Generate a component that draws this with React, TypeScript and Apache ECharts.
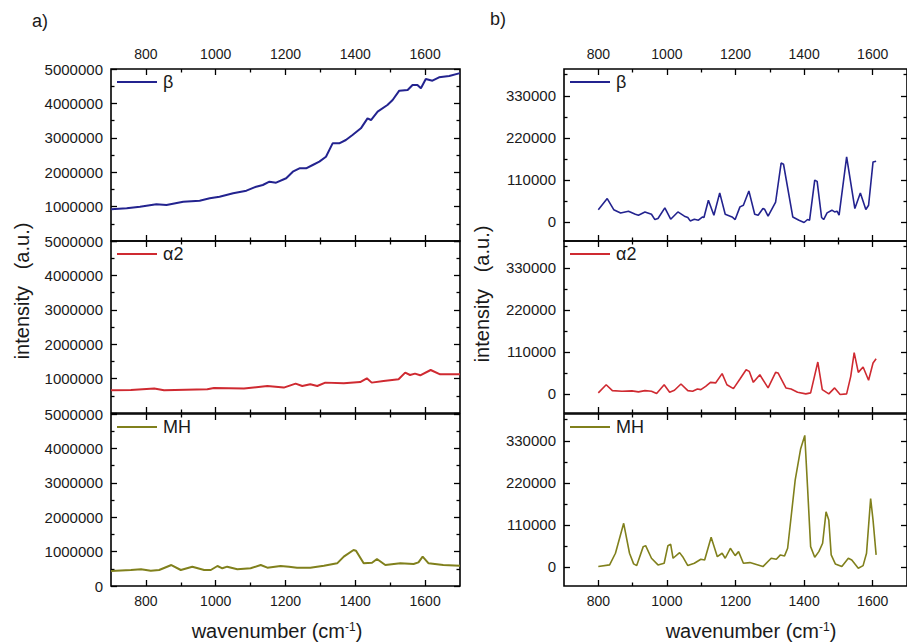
import React, { useEffect, useRef } from 'react';
import * as echarts from 'echarts';

// ---------- data ----------
const xMajorTicks = [800, 1000, 1200, 1400, 1600];
const xMinorTicks = [900, 1100, 1300, 1500];
const bYMajorTicks = [0, 110000, 220000, 330000];
const bYMinorTicks = [55000, 165000, 275000, 385000];

const seriesNames = ['β', 'α2', 'MH'];
const seriesColors = ['#23238f', '#cf2a31', '#80801c'];

// panel a) raw spectra
const aBetaX = [700, 745, 783, 830, 859, 907, 954, 983, 1011, 1050, 1088, 1116, 1135, 1154, 1173, 1202, 1221, 1240, 1259, 1278, 1297, 1316, 1335, 1354, 1373, 1392, 1416, 1435, 1445, 1464, 1492, 1507, 1526, 1550, 1564, 1578, 1588, 1602, 1621, 1640, 1669, 1700];
const aBetaY = [921000, 950000, 998000, 1067000, 1046000, 1143000, 1172000, 1241000, 1289000, 1386000, 1463000, 1579000, 1628000, 1725000, 1695000, 1823000, 2015000, 2112000, 2112000, 2209000, 2306000, 2451000, 2839000, 2839000, 2936000, 3081000, 3275000, 3566000, 3517000, 3759000, 3953000, 4099000, 4370000, 4390000, 4535000, 4535000, 4438000, 4709000, 4660000, 4758000, 4797000, 4880000];

const aAlphaX = [700, 757, 824, 852, 976, 995, 1081, 1148, 1195, 1229, 1248, 1271, 1291, 1314, 1367, 1414, 1433, 1447, 1481, 1524, 1543, 1557, 1571, 1586, 1616, 1643, 1700];
const aAlphaY = [660000, 669000, 709000, 660000, 689000, 727000, 709000, 785000, 738000, 855000, 785000, 834000, 785000, 883000, 863000, 901000, 1009000, 883000, 930000, 980000, 1174000, 1105000, 1145000, 1096000, 1250000, 1125000, 1125000];

const aMhX = [700, 757, 786, 814, 838, 873, 900, 933, 967, 986, 1005, 1019, 1033, 1062, 1100, 1129, 1148, 1186, 1210, 1233, 1271, 1310, 1348, 1367, 1395, 1402, 1424, 1448, 1462, 1486, 1529, 1567, 1581, 1593, 1610, 1652, 1700];
const aMhY = [436000, 465000, 485000, 445000, 465000, 610000, 465000, 562000, 465000, 465000, 581000, 514000, 562000, 485000, 514000, 610000, 533000, 581000, 562000, 533000, 533000, 591000, 659000, 853000, 1047000, 1027000, 659000, 678000, 785000, 610000, 659000, 640000, 688000, 853000, 659000, 610000, 591000];

// panel b) baseline-corrected spectra
const bBetaX = [800, 826, 845, 865, 888, 908, 917, 936, 955, 965, 974, 994, 1011, 1032, 1051, 1061, 1068, 1080, 1092, 1104, 1108, 1121, 1137, 1154, 1170, 1190, 1199, 1213, 1223, 1239, 1256, 1266, 1280, 1285, 1295, 1317, 1333, 1340, 1367, 1385, 1400, 1410, 1416, 1431, 1438, 1451, 1457, 1467, 1481, 1489, 1496, 1502, 1524, 1548, 1564, 1580, 1588, 1601, 1610];
const bBetaY = [32000, 61000, 32000, 23500, 28000, 20000, 17500, 26000, 20000, 6000, 9000, 36600, 7000, 26000, 15000, 11500, 2600, 7000, 4400, 13000, 11500, 56700, 17500, 75800, 20000, 13000, 6200, 39200, 43600, 81000, 20000, 17500, 35000, 33000, 15000, 52000, 154000, 150800, 13000, 4400, -1600, 6200, 4400, 109000, 106000, 11500, 6200, 23500, 30600, 26000, 28000, 17500, 170000, 35000, 75800, 32400, 43600, 156800, 158600];

const bAlphaX = [800, 823, 841, 869, 898, 917, 936, 955, 970, 992, 1008, 1022, 1041, 1061, 1075, 1089, 1099, 1113, 1127, 1142, 1161, 1175, 1194, 1213, 1231, 1240, 1252, 1271, 1295, 1317, 1324, 1347, 1362, 1381, 1405, 1419, 1440, 1453, 1472, 1489, 1505, 1524, 1536, 1546, 1558, 1572, 1588, 1601, 1610];
const bAlphaY = [2600, 24000, 8600, 7000, 7800, 5200, 8600, 7000, 800, 24000, 4200, 9400, 26000, 8600, 7000, 13000, 11200, 19800, 30200, 28700, 53000, 24000, 13800, 39000, 63300, 59000, 30200, 50000, 15600, 56300, 54700, 15600, 13000, 4200, 0, 2600, 83400, 11200, 0, 15600, -1800, 0, 45900, 108000, 56300, 70400, 35500, 80800, 92000];

const bMhX = [800, 833, 850, 874, 891, 903, 912, 931, 938, 955, 974, 992, 1003, 1011, 1018, 1037, 1046, 1061, 1080, 1099, 1110, 1129, 1147, 1161, 1170, 1185, 1199, 1209, 1223, 1242, 1280, 1304, 1319, 1331, 1343, 1352, 1374, 1390, 1402, 1410, 1419, 1431, 1443, 1454, 1464, 1472, 1479, 1491, 1510, 1529, 1539, 1558, 1572, 1582, 1594, 1601, 1610];
const bMhY = [800, 5200, 35700, 114000, 35700, 7800, 3400, 53000, 55500, 22600, 5200, 9600, 55500, 59000, 22600, 37300, 26800, 3400, 9600, 20000, 18200, 77400, 26800, 35700, 22600, 48700, 29500, 39900, 9600, 11200, 800, 22600, 20000, 31300, 28700, 48700, 226800, 309300, 344000, 209300, 53000, 25300, 39900, 61800, 144000, 122500, 31300, 7800, 800, 22600, 18200, -3400, 3400, 35700, 179000, 122500, 31300];

const panelData = [
  [[aBetaX, aBetaY], [aAlphaX, aAlphaY], [aMhX, aMhY]],
  [[bBetaX, bBetaY], [bAlphaX, bAlphaY], [bMhX, bMhY]],
];

// ---------- layout ----------
const FONT = '"Liberation Sans", Arial, Helvetica, sans-serif';
const TXT = '#1a1a1a';
const gridLefts = [111, 564];
const gridWidth = 349;
const gridTops = [69, 241, 414];
const gridHeight = 172;

const zip = (xs: number[], ys: number[]) => xs.map((x, i) => [x, ys[i]]);

function buildOption() {
  const grid: any[] = [];
  const xAxis: any[] = [];
  const yAxis: any[] = [];
  const series: any[] = [];
  const legend: any[] = [];

  const tickStyle = { color: '#000', width: 1.3 };

  for (let p = 0; p < 2; p++) {
    for (let r = 0; r < 3; r++) {
      const g = grid.length;
      grid.push({
        left: gridLefts[p],
        top: gridTops[r],
        width: gridWidth,
        height: gridHeight,
        show: true,
        borderColor: '#000',
        borderWidth: 1.6,
        backgroundColor: 'transparent',
      });

      const xBase = {
        gridIndex: g,
        type: 'value',
        min: 700,
        max: 1700,
        axisLine: { show: false, onZero: false },
        splitLine: { show: false },
      };
      const xMainIndex = xAxis.length;
      for (const pos of ['bottom', 'top']) {
        const showLab = (pos === 'bottom' && r === 2) || (pos === 'top' && r === 0);
        xAxis.push({
          ...xBase,
          position: pos,
          axisTick: { inside: true, length: 6, customValues: xMajorTicks, lineStyle: tickStyle },
          axisLabel: {
            show: showLab,
            customValues: xMajorTicks,
            fontSize: 14,
            fontFamily: FONT,
            color: TXT,
            margin: 8,
            formatter: (v: number) => String(v),
          },
        });
        xAxis.push({
          ...xBase,
          position: pos,
          axisTick: { inside: true, length: 3.5, customValues: xMinorTicks, lineStyle: tickStyle },
          axisLabel: { show: false },
        });
      }

      const yMainIndex = yAxis.length;
      if (p === 0) {
        for (const pos of ['left', 'right']) {
          yAxis.push({
            gridIndex: g,
            type: 'value',
            position: pos,
            min: 0,
            max: 5000000,
            interval: 1000000,
            axisLine: { show: false, onZero: false },
            splitLine: { show: false },
            axisTick: { inside: true, length: 6, lineStyle: tickStyle },
            minorTick: { show: true, splitNumber: 2, length: 3.5, lineStyle: tickStyle },
            minorSplitLine: { show: false },
            axisLabel: {
              show: pos === 'left',
              showMinLabel: r === 2,
              showMaxLabel: true,
              fontSize: 15,
              fontFamily: FONT,
              color: TXT,
              margin: 8,
              formatter: (v: number) => String(v),
            },
          });
        }
      } else {
        for (const pos of ['left', 'right']) {
          const yBase = {
            gridIndex: g,
            type: 'value',
            position: pos,
            min: -50000,
            max: 400000,
            axisLine: { show: false, onZero: false },
            splitLine: { show: false },
          };
          yAxis.push({
            ...yBase,
            axisTick: { inside: true, length: 6, customValues: bYMajorTicks, lineStyle: tickStyle },
            axisLabel: {
              show: pos === 'left',
              customValues: bYMajorTicks,
              fontSize: 15,
              fontFamily: FONT,
              color: TXT,
              margin: 8,
              formatter: (v: number) => String(v),
            },
          });
          yAxis.push({
            ...yBase,
            axisTick: { inside: true, length: 3.5, customValues: bYMinorTicks, lineStyle: tickStyle },
            axisLabel: { show: false },
          });
        }
      }

      const [xs, ys] = panelData[p][r];
      series.push({
        type: 'line',
        name: seriesNames[r],
        xAxisIndex: xMainIndex,
        yAxisIndex: yMainIndex,
        data: zip(xs, ys),
        symbol: 'none',
        showSymbol: false,
        color: seriesColors[r],
        lineStyle: { color: seriesColors[r], width: p === 0 ? 2 : 1.6 },
        clip: true,
        z: 3,
      });

      legend.push({
        data: [{ name: seriesNames[r], icon: 'rect' }],
        left: gridLefts[p] + 6,
        top: gridTops[r] + 4,
        padding: 0,
        itemWidth: 40,
        itemHeight: 2,
        itemGap: 0,
        selectedMode: false,
        itemStyle: { color: seriesColors[r], borderWidth: 0 },
        textStyle: { fontSize: 18, fontFamily: FONT, color: TXT, padding: [0, 0, 0, 1] },
      });
    }
  }

  const titleStyle = { fontSize: 20, fontFamily: FONT, fill: TXT, align: 'center', verticalAlign: 'middle' };
  const xName = {
    text: '{n|wavenumber (cm}{s|-1}{n|)}',
    align: 'center',
    verticalAlign: 'middle',
    rich: {
      n: { fontSize: 20, fontFamily: FONT, fill: TXT, lineHeight: 20, verticalAlign: 'bottom' },
      s: { fontSize: 12, fontFamily: FONT, fill: TXT, lineHeight: 20, verticalAlign: 'top' },
    },
  };

  const graphic: any[] = [
    { type: 'text', left: 32, top: 12, style: { text: 'a)', fontSize: 18, fontFamily: FONT, fill: TXT } },
    { type: 'text', left: 490, top: 10, style: { text: 'b)', fontSize: 18, fontFamily: FONT, fill: TXT } },
    { type: 'text', x: 22, y: 291, rotation: Math.PI / 2, style: { ...titleStyle, text: 'intensity   (a.u.)' } },
    { type: 'text', x: 482, y: 294, rotation: Math.PI / 2, style: { ...titleStyle, text: 'intensity   (a.u.)' } },
    { type: 'text', x: 277, y: 631, style: xName },
    { type: 'text', x: 751, y: 631, style: xName },
  ];

  return {
    animation: false,
    backgroundColor: '#ffffff',
    grid,
    xAxis,
    yAxis,
    series,
    legend,
    graphic,
  };
}

export default function App() {
  const ref = useRef<HTMLDivElement>(null);
  useEffect(() => {
    if (!ref.current) return;
    const chart = echarts.init(ref.current, null, { renderer: 'svg' });
    chart.setOption(buildOption() as any);
    return () => chart.dispose();
  }, []);
  return (
    <div
      ref={ref}
      style={{ position: 'absolute', left: 0, top: 0, width: 907, height: 644 }}
    />
  );
}
